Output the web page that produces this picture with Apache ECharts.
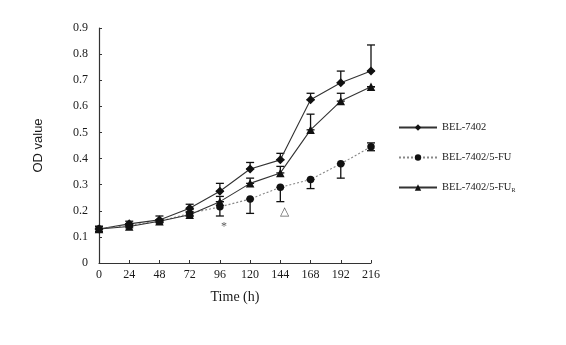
<!DOCTYPE html>
<html>
<head>
<meta charset="utf-8">
<script src="https://cdn.jsdelivr.net/npm/echarts@6/dist/echarts.min.js"></script>
<style>
  html, body { margin: 0; padding: 0; background: #fff; }
  #chart { width: 566px; height: 345px; }
</style>
</head>
<body>
<div id="chart"></div>
<script>
// Sampling times (h)
const hours = [0, 24, 48, 72, 96, 120, 144, 168, 192, 216];

// Mean OD values per cell line
const bel7402 = [0.13, 0.15, 0.165, 0.21, 0.275, 0.36, 0.395, 0.625, 0.69, 0.735];
const bel5fu  = [0.13, 0.145, 0.16, 0.19, 0.215, 0.245, 0.29, 0.32, 0.38, 0.445];
const bel5fuR = [0.13, 0.14, 0.16, 0.185, 0.235, 0.305, 0.345, 0.51, 0.62, 0.675];

// Standard deviations (upper / lower whiskers)
const bel7402Up   = [0.01, 0.01, 0.015, 0.015, 0.03, 0.025, 0.025, 0.025, 0.045, 0.1];
const bel7402Down = [0.01, 0.005, 0.005, 0.005, 0, 0, 0, 0, 0, 0];
const bel5fuUp    = [0.01, 0.005, 0.005, 0.005, 0.02, 0, 0, 0, 0, 0.015];
const bel5fuDown  = [0.01, 0.005, 0.005, 0.01, 0.035, 0.055, 0.055, 0.035, 0.055, 0.015];
const bel5fuRUp   = [0.01, 0.005, 0.005, 0.01, 0.02, 0.02, 0.025, 0.06, 0.03, 0];
const bel5fuRDown = [0.01, 0.005, 0.005, 0.005, 0, 0, 0, 0, 0, 0];

// Significance marks
const markX = [96, 144];
const markY = [0.14, 0.195];
const markText = ['*', '\u25B3'];

const seriesNames = ['BEL-7402', 'BEL-7402/5-FU', 'BEL-7402/5-FUR'];
const yTicks = { min: 0, max: 0.9, interval: 0.1 };

const serif = 'Liberation Serif';
const ink = '#1a1a1a';

function pairs(ys) { return hours.map((h, i) => [h, ys[i]]); }
function errData(ys, up, down) { return hours.map((h, i) => [h, ys[i] + up[i], ys[i] - down[i]]); }

function errorBars(ys, up, down, color) {
  return {
    type: 'custom',
    silent: true,
    z: 3,
    data: errData(ys, up, down),
    renderItem: function (params, api) {
      const x = api.value(0);
      const hi = api.coord([x, api.value(1)]);
      const lo = api.coord([x, api.value(2)]);
      const cap = 4;
      const style = { stroke: color, lineWidth: 1.3 };
      return {
        type: 'group',
        children: [
          { type: 'line', shape: { x1: hi[0], y1: hi[1], x2: lo[0], y2: lo[1] }, style: style },
          { type: 'line', shape: { x1: hi[0] - cap, y1: hi[1], x2: hi[0] + cap, y2: hi[1] }, style: style },
          { type: 'line', shape: { x1: lo[0] - cap, y1: lo[1], x2: lo[0] + cap, y2: lo[1] }, style: style }
        ]
      };
    }
  };
}

const chart = echarts.init(document.getElementById('chart'));
chart.setOption({
  backgroundColor: '#fff',
  animation: false,
  grid: { left: 99, right: 195, top: 28, bottom: 82 },
  xAxis: {
    type: 'value',
    min: 0, max: 216, interval: 24,
    name: 'Time (h)',
    nameLocation: 'middle',
    nameGap: 27,
    nameTextStyle: { fontFamily: serif, fontSize: 14, color: ink },
    axisLine: { lineStyle: { color: '#333', width: 1.2 } },
    axisTick: { inside: true, length: 3, lineStyle: { color: '#333' } },
    axisLabel: { fontFamily: serif, fontSize: 12, color: ink, margin: 6 },
    splitLine: { show: false }
  },
  yAxis: {
    type: 'value',
    min: yTicks.min, max: yTicks.max, interval: yTicks.interval,
    name: 'OD value',
    nameLocation: 'middle',
    nameGap: 54,
    nameTextStyle: { fontFamily: 'Liberation Sans', fontSize: 13, color: ink },
    axisLine: { show: true, lineStyle: { color: '#333', width: 1.2 } },
    axisTick: { show: true, inside: true, length: 3, lineStyle: { color: '#333' } },
    axisLabel: {
      fontFamily: serif, fontSize: 12, color: ink, margin: 11,
      formatter: v => (Math.round(v * 10) / 10).toString()
    },
    splitLine: { show: false }
  },
  legend: {
    orient: 'vertical',
    left: 393,
    top: 117,
    itemWidth: 38,
    itemHeight: 8,
    itemGap: 19,
    data: seriesNames,
    textStyle: {
      fontFamily: serif, fontSize: 10.5, color: ink,
      rich: {
        base: { fontFamily: serif, fontSize: 10.5, color: ink },
        sub: { fontFamily: serif, fontSize: 6, color: ink, verticalAlign: 'bottom', padding: [5, 0, 0, 0] }
      }
    },
    formatter: function (name) {
      if (name === 'BEL-7402/5-FUR') return '{base|BEL-7402/5-FU}{sub|R}';
      return '{base|' + name + '}';
    }
  },
  series: [
    {
      name: seriesNames[0], type: 'line', data: pairs(bel7402),
      symbol: 'diamond', symbolSize: 9, z: 4,
      lineStyle: { color: '#333', width: 1.1 },
      itemStyle: { color: '#111' }
    },
    {
      name: seriesNames[1], type: 'line', data: pairs(bel5fu),
      symbol: 'circle', symbolSize: 7.5, z: 4,
      lineStyle: { color: '#888', width: 1.1, type: [2, 2] },
      itemStyle: { color: '#111' }
    },
    {
      name: seriesNames[2], type: 'line', data: pairs(bel5fuR),
      symbol: 'triangle', symbolSize: 8.5, z: 4,
      lineStyle: { color: '#333', width: 1.1 },
      itemStyle: { color: '#111' }
    },
    errorBars(bel7402, bel7402Up, bel7402Down, '#111'),
    errorBars(bel5fu, bel5fuUp, bel5fuDown, '#111'),
    errorBars(bel5fuR, bel5fuRUp, bel5fuRDown, '#111'),
    {
      type: 'scatter',
      silent: true,
      symbolSize: 0,
      data: markX.map((x, i) => ({
        value: [x, markY[i]],
        label: { formatter: markText[i], offset: i === 0 ? [4, 0] : [4, 0] }
      })),
      label: {
        show: true, position: 'inside',
        fontFamily: serif, fontSize: 12, color: '#333'
      }
    }
  ]
});
</script>
</body>
</html>
